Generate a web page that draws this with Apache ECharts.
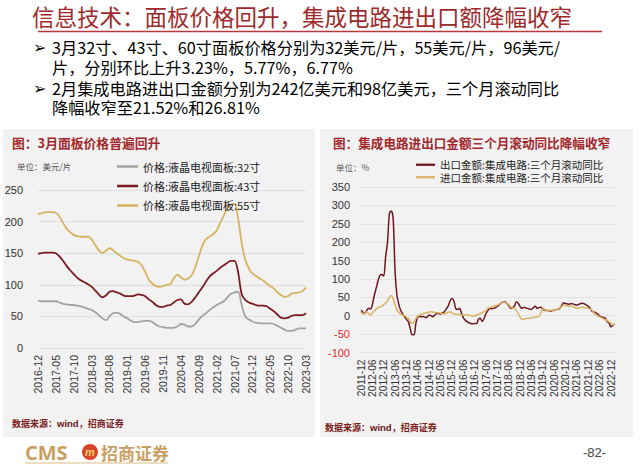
<!DOCTYPE html>
<html><head><meta charset="utf-8">
<script src="https://cdn.jsdelivr.net/npm/echarts@6/dist/echarts.min.js"></script>
<style>html,body{margin:0;padding:0;background:#fff}#c{width:640px;height:465px}</style>
</head><body><div id="c"></div>
<script>
// ---------- data ----------
function monthList(y, m, n) {
  const out = [];
  for (let i = 0; i < n; i++) {
    out.push(y + '-' + (m < 10 ? '0' + m : '' + m));
    m++; if (m > 12) { m = 1; y++; }
  }
  return out;
}
const panelMonths = monthList(2016, 12, 76);   // 2016-12 .. 2023-03
const icMonths = monthList(2011, 12, 135);     // 2011-12 .. 2023-02

const panelNames = ['价格:液晶电视面板:32寸', '价格:液晶电视面板:43寸', '价格:液晶电视面板:55寸'];
const panel32 = [75,74,74,74,74,74,72,70,69,68,68,67,66,64,62,60,57,52,47,44,50,55,56,54,50,47,43,41,41,42,43,43,41,37,34,33,32,32,32,34,38,37,34,34,38,45,51,55,60,64,68,71,74,80,86,88,89,68,50,45,42,40,39,39,39,39,38,35,32,29,27,27,29,31,31,31,32].slice(0,76);
const panel43 = [149,150,151,151,151,150,145,138,130,123,117,111,107,104,101,97,91,85,80,83,89,90,88,86,83,82,82,83,85,84,82,77,73,68,65,65,67,68,72,76,77,70,69,73,80,88,96,105,113,118,122,127,131,135,138,138,120,85,76,72,70,68,67,67,66,62,58,53,48,47,48,51,52,52,52,55];
const panel55 = [212,213,215,215,215,214,208,198,189,183,179,177,176,176,176,172,163,155,150,154,158,155,150,146,142,140,139,138,136,131,120,108,102,98,97,98,100,101,110,116,112,108,110,115,128,145,162,172,176,180,186,198,210,222,227,228,205,166,140,126,118,114,110,107,102,98,94,88,84,81,82,86,87,88,90,96];

const icNames = ['出口金额:集成电路:三个月滚动同比', '进口金额:集成电路:三个月滚动同比'];
const icExport = [15,10,6,14,20,18,30,55,75,95,110,112,108,160,200,278,285,262,120,55,30,14,5,-3,-10,-16,-35,-52,-52,-20,-3,-2,-3,-2,-5,-3,2,0,-3,2,6,6,5,8,11,18,26,40,47,41,20,17,20,8,-5,-12,-16,-19,-21,-22,-21,-21,-10,-7,-16,-8,6,14,20,19,20,22,25,30,35,37,38,33,28,20,22,26,38,34,25,20,23,21,20,18,17,22,26,20,22,23,18,15,14,14,13,14,15,16,18,20,28,35,33,32,31,33,32,30,29,31,33,34,32,29,26,20,12,10,8,5,-1,-3,-5,-7,-16,-20,-30,-26,-23];
const icImport = [11,5,7,11,6,2,8,12,18,22,24,26,30,35,40,50,55,45,29,15,9,5,2,0,-4,-7,-17,-21,-17,-8,-1,2,4,6,7,9,10,11,10,9,8,8,7,6,5,7,9,11,8,5,4,3,3,2,2,2,2,1,0,-1,-1,2,4,6,8,11,15,20,22,24,25,27,29,32,35,38,36,33,30,24,21,20,14,6,-4,-10,-9,-8,-7,-7,-6,-5,-4,-3,-1,8,20,17,14,14,15,15,15,16,18,20,25,29,28,27,26,26,24,22,20,21,22,23,22,21,20,18,15,8,2,0,-3,-5,-8,-11,-13,-17,-20,-25,-22];

const panelYTicks = [0, 250, 50];      // min, max, step
const icYTicks = [-100, 350, 50];

// ---------- texts ----------
const mainTitle = '信息技术：面板价格回升，集成电路进出口额降幅收窄';
const bulletLines = [
  '3月32寸、43寸、60寸面板价格分别为32美元/片，55美元/片，96美元/',
  '片，分别环比上升3.23%，5.77%，6.77%',
  '2月集成电路进出口金额分别为242亿美元和98亿美元，三个月滚动同比',
  '降幅收窄至21.52%和26.81%'
];
const leftTitle = '图：3月面板价格普遍回升';
const rightTitle = '图：集成电路进出口金额三个月滚动同比降幅收窄';

const CJK = '"Noto Sans CJK SC", "Liberation Sans", sans-serif';
const NUM = '"Liberation Sans", Arial, sans-serif';

const chart = echarts.init(document.getElementById('c'), null, {renderer: 'svg'});

const colGray = '#a3a3a3', colRed = '#7a1b22', colGold = '#d7b35f';
const colExp = '#6d1820', colImp = '#d9b264';

function srcText(x, y) {
  return {
    type: 'text', x: x, y: y, z: 10,
    style: {
      text: '{a|数据来源：}{b|wind}{a|，招商证券}',
      rich: {
        a: {fontSize: 9, fontFamily: CJK, fill: '#7a2020', fontWeight: 'bold'},
        b: {fontSize: 9.5, fontFamily: NUM, fill: '#6a1515', fontWeight: 'bold'}
      },
      verticalAlign: 'middle'
    }
  };
}

const graphics = [
  {type: 'rect', shape: {x: 3, y: 129, width: 312, height: 308}, style: {fill: '#f2f2f2'}, z: -100},
  {type: 'rect', shape: {x: 320, y: 129, width: 313, height: 308}, style: {fill: '#f2f2f2'}, z: -100},
  {type: 'text', x: 32, y: 16, style: {text: mainTitle, fontSize: 22.5, fontFamily: CJK, fill: '#9e2a2b', verticalAlign: 'middle'}},
  {type: 'line', shape: {x1: 38, y1: 31.5, x2: 602, y2: 31.5}, style: {stroke: '#b8373a', lineWidth: 1.6}},
  {type: 'text', x: 33, y: 47, style: {text: '➢', fontSize: 16, fontFamily: '"DejaVu Sans"', fill: '#000', verticalAlign: 'middle'}},
  {type: 'text', x: 33, y: 88, style: {text: '➢', fontSize: 16, fontFamily: '"DejaVu Sans"', fill: '#000', verticalAlign: 'middle'}},
  {type: 'text', x: 52, y: 47, style: {text: bulletLines[0], fontSize: 16.2, fontFamily: CJK, fill: '#000', verticalAlign: 'middle', lineHeight: 18}},
  {type: 'text', x: 52, y: 67, style: {text: bulletLines[1], fontSize: 16.2, fontFamily: CJK, fill: '#000', verticalAlign: 'middle', lineHeight: 18}},
  {type: 'text', x: 52, y: 88, style: {text: bulletLines[2], fontSize: 16.2, fontFamily: CJK, fill: '#000', verticalAlign: 'middle', lineHeight: 18}},
  {type: 'text', x: 52, y: 107, style: {text: bulletLines[3], fontSize: 16.2, fontFamily: CJK, fill: '#000', verticalAlign: 'middle', lineHeight: 18}},
  {type: 'text', x: 12, y: 142, style: {text: leftTitle, fontSize: 12.8, fontFamily: CJK, fill: '#a3282c', fontWeight: 'bold', verticalAlign: 'middle'}},
  {type: 'text', x: 333, y: 142, style: {text: rightTitle, fontSize: 12.6, fontFamily: CJK, fill: '#a3282c', fontWeight: 'bold', verticalAlign: 'middle'}},
  {type: 'text', x: 17, y: 166, style: {text: '单位：美元/片', fontSize: 8.5, fontFamily: CJK, fill: '#555', verticalAlign: 'middle'}},
  {type: 'text', x: 336, y: 167, style: {text: '单位：%', fontSize: 8.5, fontFamily: CJK, fill: '#555', verticalAlign: 'middle'}},
  srcText(12, 423),
  srcText(325, 427),
  {type: 'text', x: 25, y: 452, style: {text: 'CMS', fontSize: 20, fontFamily: '"Open Sans", "Liberation Sans", sans-serif', fontWeight: 'bold', fill: '#c9a063', verticalAlign: 'middle'}},
  {type: 'circle', shape: {cx: 90, cy: 452, r: 8}, style: {fill: '#d9452b'}},
  {type: 'text', x: 90, y: 452, style: {text: 'm', fontSize: 11, fontFamily: NUM, fontStyle: 'italic', fontWeight: 'bold', fill: '#f7d070', align: 'center', verticalAlign: 'middle'}},
  {type: 'text', x: 101, y: 452, style: {text: '招商证券', fontSize: 17, fontFamily: CJK, fontWeight: 'bold', fill: '#c9a063', verticalAlign: 'middle'}},
  {type: 'line', shape: {x1: 25, y1: 463, x2: 168, y2: 463}, style: {stroke: '#d8bd86', lineWidth: 1}},
  {type: 'text', x: 583, y: 452, style: {text: '-82-', fontSize: 13, fontFamily: NUM, fill: '#444', verticalAlign: 'middle'}}
];

function lineSeries(name, data, color, width, xi) {
  return {
    name: name, type: 'line', data: data, xAxisIndex: xi, yAxisIndex: xi,
    symbol: 'none', smooth: 0.3, lineStyle: {color: color, width: width}, itemStyle: {color: color},
    animation: false
  };
}

const option = {
  animation: false,
  backgroundColor: 'transparent',
  grid: [
    {left: 38, right: 334, top: 190, bottom: 117},
    {left: 361, right: 25.2, top: 187, bottom: 112.5}
  ],
  legend: [
    {
      data: panelNames, orient: 'vertical', left: 117, top: 161, itemWidth: 21, itemHeight: 14, itemGap: 8.5,
      textStyle: {fontSize: 11, fontFamily: CJK, color: '#222'}, padding: 0, icon: 'path://M0,0 L1,0 L1,0.12 L0,0.12 Z'
    },
    {
      data: icNames, orient: 'vertical', left: 416, top: 159.5, itemWidth: 19, itemHeight: 12, itemGap: 2,
      textStyle: {fontSize: 10.5, fontFamily: CJK, color: '#222'}, padding: 0, icon: 'path://M0,0 L1,0 L1,0.12 L0,0.12 Z'
    }
  ],
  xAxis: [
    {
      type: 'category', gridIndex: 0, data: panelMonths, boundaryGap: false,
      axisLine: {show: false}, axisTick: {show: false},
      axisLabel: {interval: 4, rotate: 90, fontSize: 10.5, fontFamily: NUM, color: '#333', margin: 7}
    },
    {
      type: 'category', gridIndex: 1, data: icMonths, boundaryGap: false,
      axisLine: {show: false}, axisTick: {show: false},
      axisLabel: {interval: 5, rotate: 90, fontSize: 10.2, fontFamily: NUM, color: '#333', margin: 7}
    }
  ],
  yAxis: [
    {
      type: 'value', gridIndex: 0, min: panelYTicks[0], max: panelYTicks[1], interval: panelYTicks[2],
      axisLine: {show: false}, axisTick: {show: false},
      splitLine: {lineStyle: {color: '#dedede', width: 1}},
      axisLabel: {fontSize: 11, fontFamily: NUM, color: '#333', margin: 15}
    },
    {
      type: 'value', gridIndex: 1, min: icYTicks[0], max: icYTicks[1], interval: icYTicks[2],
      axisLine: {show: false}, axisTick: {show: false},
      splitLine: {lineStyle: {color: '#e2e2e2', width: 1}},
      axisLabel: {fontSize: 11, fontFamily: NUM, margin: 11, color: function (v) { return Number(v) < 0 ? '#e8262b' : '#333'; }}
    }
  ],
  series: [
    lineSeries(panelNames[0], panel32, colGray, 1.8, 0),
    lineSeries(panelNames[1], panel43, colRed, 1.8, 0),
    lineSeries(panelNames[2], panel55, colGold, 1.8, 0),
    lineSeries(icNames[0], icExport, colExp, 1.5, 1),
    lineSeries(icNames[1], icImport, colImp, 1.5, 1)
  ],
  graphic: graphics
};
chart.setOption(option);
</script>
</body></html>
